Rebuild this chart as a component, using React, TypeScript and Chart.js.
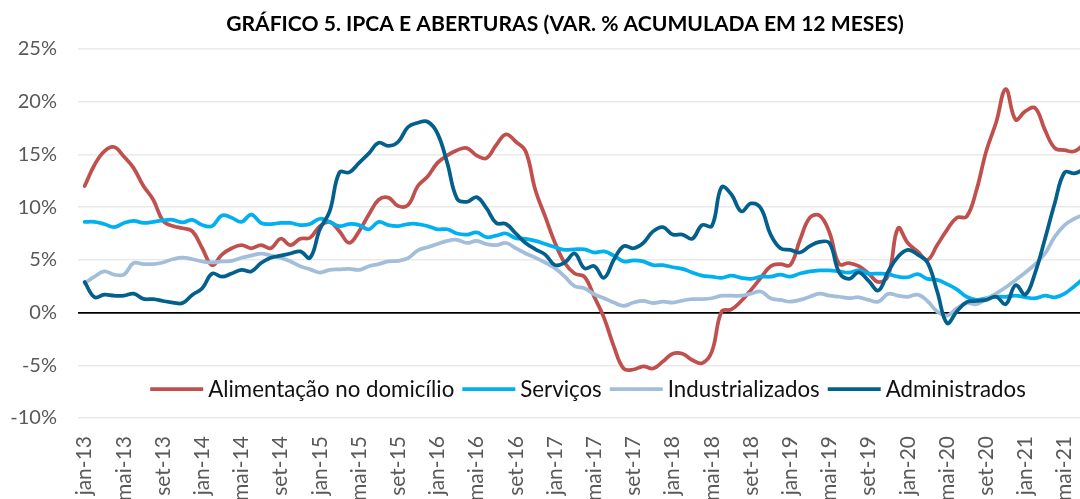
import { useEffect, useRef } from "react";
import { Chart, registerables } from "chart.js";

Chart.register(...registerables);

const TITLE = "GRÁFICO 5. IPCA E ABERTURAS (VAR. % ACUMULADA EM 12 MESES)";

const categories = [
  "jan-13", "fev-13", "mar-13", "abr-13", "mai-13", "jun-13", "jul-13", "ago-13", "set-13", "out-13", "nov-13", "dez-13",
  "jan-14", "fev-14", "mar-14", "abr-14", "mai-14", "jun-14", "jul-14", "ago-14", "set-14", "out-14", "nov-14", "dez-14",
  "jan-15", "fev-15", "mar-15", "abr-15", "mai-15", "jun-15", "jul-15", "ago-15", "set-15", "out-15", "nov-15", "dez-15",
  "jan-16", "fev-16", "mar-16", "abr-16", "mai-16", "jun-16", "jul-16", "ago-16", "set-16", "out-16", "nov-16", "dez-16",
  "jan-17", "fev-17", "mar-17", "abr-17", "mai-17", "jun-17", "jul-17", "ago-17", "set-17", "out-17", "nov-17", "dez-17",
  "jan-18", "fev-18", "mar-18", "abr-18", "mai-18", "jun-18", "jul-18", "ago-18", "set-18", "out-18", "nov-18", "dez-18",
  "jan-19", "fev-19", "mar-19", "abr-19", "mai-19", "jun-19", "jul-19", "ago-19", "set-19", "out-19", "nov-19", "dez-19",
  "jan-20", "fev-20", "mar-20", "abr-20", "mai-20", "jun-20", "jul-20", "ago-20", "set-20", "out-20", "nov-20", "dez-20",
  "jan-21", "fev-21", "mar-21", "abr-21", "mai-21", "jun-21", "jul-21",
];

const seriesNames = ["Alimentação no domicílio", "Serviços", "Industrializados", "Administrados"];
const seriesColors = ["#C0504D", "#00B0F0", "#A2BEDA", "#03608C"];

const alimentacao = [
  12.0, 14.0, 15.3, 15.7, 14.8, 13.7, 12.0, 10.7, 8.7, 8.2, 8.0, 7.7, 6.1,
  4.5, 5.5, 6.1, 6.4, 6.1, 6.4, 6.1, 7.0, 6.4, 7.0, 7.1, 8.2, 8.6,
  7.7, 6.6, 7.7, 9.3, 10.7, 10.9, 10.1, 10.2, 12.0, 12.9, 14.2, 14.9, 15.4,
  15.6, 14.9, 14.65, 15.9, 16.9, 16.2, 15.3, 11.6, 9.1, 6.6, 4.7, 3.7, 3.4,
  1.5, -0.5, -3.2, -5.3, -5.4, -5.1, -5.3, -4.65, -3.9, -3.9, -4.5, -4.8,
  -3.7, 0.1, 0.3, 1.1, 2.15, 3.3, 4.4, 4.6, 4.5, 6.9, 9.0, 9.2, 7.6,
  4.6, 4.7, 4.4, 3.7, 2.9, 3.5, 8.0, 6.6, 5.8, 5.0, 6.4, 7.85, 9.0,
  9.1, 11.6, 15.3, 18.0, 21.2, 18.3, 19.1, 19.4, 17.3, 15.6, 15.4, 15.3, 16.0,
];

const servicos = [
  8.6, 8.6, 8.4, 8.1, 8.5, 8.7, 8.5, 8.6, 8.75, 8.8, 8.55, 8.8, 8.3,
  8.2, 9.2, 9.0, 8.6, 9.3, 8.5, 8.4, 8.5, 8.5, 8.3, 8.4, 8.9, 8.6,
  8.2, 8.4, 8.3, 7.9, 8.6, 8.3, 8.2, 8.4, 8.4, 8.2, 7.9, 7.9, 7.5,
  7.4, 7.6, 7.15, 7.3, 7.5, 7.05, 7.0, 6.8, 6.5, 6.2, 5.95, 6.0, 6.0,
  5.7, 5.8, 5.4, 4.85, 4.95, 4.85, 4.5, 4.5, 4.3, 4.15, 3.8, 3.5,
  3.4, 3.3, 3.5, 3.3, 3.2, 3.4, 3.4, 3.6, 3.4, 3.7, 3.9, 4.0, 4.0,
  3.9, 3.8, 4.0, 3.7, 3.7, 3.65, 3.4, 3.35, 3.65, 3.2, 3.1, 2.7, 2.2,
  1.5, 1.2, 1.36, 1.5, 1.5, 1.6, 1.45, 1.36, 1.6, 1.45, 1.8, 2.5, 3.3,
];

const industrializados = [
  2.8, 3.4, 3.9, 3.6, 3.6, 4.7, 4.6, 4.6, 4.75, 5.06, 5.2, 5.06, 4.85,
  4.75, 4.85, 4.9, 5.2, 5.4, 5.6, 5.4, 5.2, 4.85, 4.4, 4.1, 3.8, 4.05,
  4.1, 4.15, 4.05, 4.4, 4.6, 4.85, 4.9, 5.16, 5.9, 6.2, 6.5, 6.8, 6.9,
  6.6, 6.8, 6.5, 6.4, 6.6, 6.1, 5.6, 5.2, 4.75, 4.2, 3.4, 2.5, 2.3,
  1.74, 1.36, 0.95, 0.63, 0.95, 1.1, 0.9, 1.04, 0.95, 1.14, 1.27, 1.27,
  1.36, 1.6, 1.6, 1.6, 1.8, 2.0, 1.36, 1.2, 1.04, 1.2, 1.5, 1.8, 1.6,
  1.5, 1.36, 1.45, 1.2, 1.04, 1.77, 1.6, 1.5, 1.7, 1.1, 0.1, -0.3, 0.4,
  0.9, 0.8, 1.3, 1.8, 2.4, 3.1, 3.8, 4.6, 5.6, 7.2, 8.3, 8.9, 9.3,
];

const administrados = [
  2.9, 1.46, 1.7, 1.6, 1.6, 1.8, 1.3, 1.27, 1.1, 0.95, 0.9, 1.7, 2.3,
  3.7, 3.4, 3.7, 4.05, 3.9, 4.7, 5.2, 5.4, 5.6, 5.8, 5.2, 7.9, 9.6,
  13.3, 13.3, 14.2, 15.1, 16.1, 15.8, 16.2, 17.6, 18.0, 18.1, 17.0, 14.2, 10.8,
  10.5, 10.95, 9.9, 8.5, 8.4, 7.5, 6.6, 6.0, 5.5, 4.5, 4.75, 5.6, 4.2,
  4.4, 3.3, 5.0, 6.3, 6.1, 6.6, 7.7, 8.1, 7.4, 7.4, 7.0, 8.3,
  8.2, 11.9, 11.2, 9.6, 10.35, 9.9, 7.4, 6.1, 5.95, 5.7, 6.3, 6.7, 6.6,
  3.8, 3.2, 3.8, 3.0, 2.1, 3.9, 5.3, 5.95, 5.5, 4.75, 2.0, -1.0, 0.1,
  1.0, 1.1, 1.2, 1.5, 0.8, 2.6, 1.7, 3.8, 7.0, 10.4, 13.3, 13.2, 13.6,
];

const yTicks = [-10, -5, 0, 5, 10, 15, 20, 25];
const X_TICK_EVERY = 4;

const FONT = "Lato, 'Open Sans', sans-serif";

const overlayPlugin = {
  id: "overlayTitleLegend",
  afterDraw(chart: any) {
    const ctx = chart.ctx;
    ctx.save();
    // Title, fitted to the reference width
    ctx.fillStyle = "#000";
    ctx.textAlign = "left";
    ctx.textBaseline = "alphabetic";
    ctx.font = `bold 20px ${FONT}`;
    const tw = ctx.measureText(TITLE).width;
    const titleSize = (20 * 678) / tw;
    ctx.font = `bold ${titleSize}px ${FONT}`;
    const tw2 = ctx.measureText(TITLE).width;
    ctx.fillText(TITLE, 565 - tw2 / 2, 31);

    // Legend inside plot area
    const items = chart.data.datasets.map((d: any) => ({ label: d.label, color: d.borderColor }));
    ctx.font = `20px ${FONT}`;
    const rawW = items.reduce((s: number, it: any) => s + ctx.measureText(it.label).width, 0);
    const legendSize = (20 * 620) / rawW;
    ctx.font = `${legendSize}px ${FONT}`;
    const sample = 53, gapA = 5, gapB = 8;
    const widths = items.map((it: any) => ctx.measureText(it.label).width);
    const total = widths.reduce((s: number, w: number) => s + w, 0) + items.length * (sample + gapA) + (items.length - 1) * gapB;
    let x = 588 - total / 2;
    const yLine = 389;
    items.forEach((it: any, k: number) => {
      ctx.strokeStyle = it.color;
      ctx.lineWidth = 3.75;
      ctx.lineCap = "butt";
      ctx.beginPath();
      ctx.moveTo(x, yLine);
      ctx.lineTo(x + sample, yLine);
      ctx.stroke();
      x += sample + gapA;
      ctx.fillStyle = "#111";
      ctx.fillText(it.label, x, 397);
      x += widths[k] + gapB;
    });
    ctx.restore();
  },
};

export default function App() {
  const ref = useRef<HTMLCanvasElement | null>(null);

  useEffect(() => {
    document.body.style.margin = "0";
    const canvas = ref.current;
    if (!canvas) return;
    const values = [alimentacao, servicos, industrializados, administrados];
    const chart = new Chart(canvas, {
      type: "line",
      data: {
        datasets: seriesNames.map((name, k) => ({
          label: name,
          data: values[k].map((v, i) => ({ x: i, y: v })),
          borderColor: seriesColors[k],
          backgroundColor: seriesColors[k],
          borderWidth: 3.75,
          pointRadius: 0,
          pointHoverRadius: 0,
          tension: 0.4,
          fill: false,
          order: seriesNames.length - k,
          borderCapStyle: "round",
          borderJoinStyle: "round",
        })),
      },
      options: {
        animation: false,
        responsive: false,
        events: [],
        layout: { padding: { top: 49, right: 0, bottom: 0, left: 0 } },
        plugins: {
          legend: { display: false },
          title: { display: false },
          tooltip: { enabled: false },
        },
        scales: {
          x: {
            type: "linear",
            min: -0.68,
            max: 101.57,
            grid: { display: false, drawTicks: false },
            border: { display: false },
            ticks: {
              stepSize: X_TICK_EVERY,
              autoSkip: false,
              includeBounds: false,
              maxTicksLimit: 200,
              minRotation: 90,
              maxRotation: 90,
              padding: 18,
              color: "#595959",
              font: { family: FONT, size: 21 },
              callback: (v: any) => (Number.isInteger(v) ? categories[v] ?? "" : ""),
            },
            afterFit: (s: any) => {
              s.height = 81;
              s.paddingLeft = 0;
              s.paddingRight = 0;
            },
          },
          y: {
            min: yTicks[0],
            max: yTicks[yTicks.length - 1],
            ticks: {
              stepSize: 5,
              padding: 21,
              color: "#595959",
              font: { family: FONT, size: 20 },
              callback: (v: any) => `${v}%`,
            },
            grid: {
              drawTicks: false,
              color: (c: any) => (c.tick && c.tick.value === 0 ? "#000000" : "#EAEAEA"),
              lineWidth: (c: any) => (c.tick && c.tick.value === 0 ? 1.75 : 1.5),
            },
            border: { display: false },
            afterFit: (s: any) => {
              s.width = 78;
              s.paddingTop = 0;
              s.paddingBottom = 0;
            },
          },
        },
      } as any,
      plugins: [overlayPlugin],
    });
    return () => chart.destroy();
  }, []);

  return <canvas ref={ref} width={1080} height={499} style={{ display: "block" }} />;
}
